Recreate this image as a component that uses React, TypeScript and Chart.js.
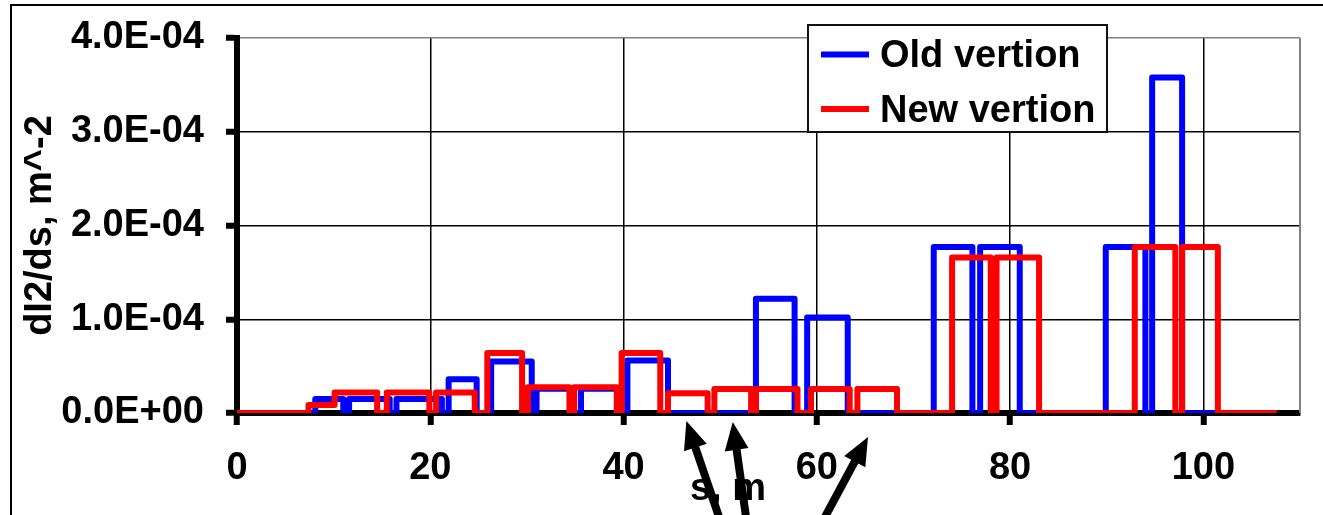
import { useEffect, useRef } from 'react';
import { Chart, registerables } from 'chart.js';

Chart.register(...registerables);

// Breakpoints of the dI2/ds step profiles along s (m)
const OLD_S = [
  0, 8.1, 8.1, 11.0, 11.0, 11.6, 11.6, 15.8, 15.8, 16.5, 16.5, 21.2, 21.2,
  21.9, 21.9, 24.8, 24.8, 26.3, 26.3, 30.5, 30.5, 31.0, 31.0, 34.6, 34.6,
  35.6, 35.6, 39.6, 39.6, 40.4, 40.4, 44.6, 44.6, 53.7, 53.7, 57.7, 57.7,
  59.0, 59.0, 63.2, 63.2, 72.1, 72.1, 76.1, 76.1, 76.9, 76.9, 81.0, 81.0,
  89.9, 89.9, 94.0, 94.0, 94.7, 94.7, 97.8, 97.8, 107.6,
];
const OLD_DI2 = [
  0, 0, 1.5e-5, 1.5e-5, 0, 0, 1.5e-5, 1.5e-5, 0, 0, 1.5e-5, 1.5e-5, 0,
  0, 3.6e-5, 3.6e-5, 0, 0, 5.5e-5, 5.5e-5, 0, 0, 2.6e-5, 2.6e-5, 0,
  0, 2.6e-5, 2.6e-5, 0, 0, 5.6e-5, 5.6e-5, 0, 0, 1.22e-4, 1.22e-4, 0,
  0, 1.02e-4, 1.02e-4, 0, 0, 1.77e-4, 1.77e-4, 0, 0, 1.77e-4, 1.77e-4, 0,
  0, 1.77e-4, 1.77e-4, 0, 0, 3.58e-4, 3.58e-4, 0, 0,
];

const NEW_S = [
  0, 7.4, 7.4, 10.1, 10.1, 14.5, 14.5, 15.5, 15.5, 19.9, 19.9, 20.6, 20.6,
  24.6, 24.6, 25.9, 25.9, 29.5, 29.5, 30.1, 30.1, 34.4, 34.4, 34.9, 34.9,
  39.3, 39.3, 39.8, 39.8, 43.8, 43.8, 44.6, 44.6, 48.7, 48.7, 49.4, 49.4,
  53.2, 53.2, 53.7, 53.7, 58.0, 58.0, 59.4, 59.4, 63.4, 63.4, 64.2, 64.2,
  68.3, 68.3, 74.0, 74.0, 78.0, 78.0, 78.6, 78.6, 83.0, 83.0, 92.9, 92.9,
  97.1, 97.1, 97.8, 97.8, 101.5, 101.5, 107.6,
];
const NEW_DI2 = [
  0, 0, 8.5e-6, 8.5e-6, 2.2e-5, 2.2e-5, 0, 0, 2.2e-5, 2.2e-5, 0, 0, 2.2e-5,
  2.2e-5, 0, 0, 6.4e-5, 6.4e-5, 0, 0, 2.75e-5, 2.75e-5, 0, 0, 2.75e-5,
  2.75e-5, 0, 0, 6.4e-5, 6.4e-5, 0, 0, 2.1e-5, 2.1e-5, 0, 0, 2.55e-5,
  2.55e-5, 0, 0, 2.55e-5, 2.55e-5, 0, 0, 2.55e-5, 2.55e-5, 0, 0, 2.55e-5,
  2.55e-5, 0, 0, 1.66e-4, 1.66e-4, 0, 0, 1.66e-4, 1.66e-4, 0, 0, 1.77e-4,
  1.77e-4, 0, 0, 1.77e-4, 1.77e-4, 0, 0,
];

const X_TICKS = [0, 20, 40, 60, 80, 100];
const Y_TICKS = [0, 1e-4, 2e-4, 3e-4, 4e-4];
const SERIES_LABELS = ['Old vertion', 'New vertion'];
const SERIES_COLORS = ['#0000ff', '#ff0000'];
const X_TITLE = 's, m';
const Y_TITLE = 'dI2/ds, m^-2';

// Pointer arrows under the s axis: where each tip points (s, m)
const ARROW_TARGETS = [46.5, 51.3, 65.3];

const FONT_FAMILY = '"Liberation Sans", Arial, sans-serif';
const BOLD = `bold 38px ${FONT_FAMILY}`;

function sci(v: number): string {
  const [m, e] = v.toExponential(1).split('e');
  const n = parseInt(e, 10);
  return `${m}E${n < 0 ? '-' : '+'}${String(Math.abs(n)).padStart(2, '0')}`;
}

const decorations = {
  id: 'decorations',
  afterDraw(chart: any) {
    const { ctx, chartArea } = chart;
    const xs = chart.scales.x;
    ctx.save();

    // outer frame
    ctx.strokeStyle = '#000';
    ctx.lineWidth = 2;
    ctx.beginPath();
    ctx.moveTo(11, chart.height + 5);
    ctx.lineTo(11, 5);
    ctx.lineTo(chart.width + 5, 5);
    ctx.stroke();

    // right edge of the plot area
    ctx.strokeStyle = '#808080';
    ctx.lineWidth = 2;
    ctx.beginPath();
    ctx.moveTo(chartArea.right, chartArea.top);
    ctx.lineTo(chartArea.right, chartArea.bottom);
    ctx.stroke();

    // legend box
    const lx = 808, ly = 25, lw = 299, lh = 107;
    ctx.fillStyle = '#fff';
    ctx.fillRect(lx, ly, lw, lh);
    ctx.strokeStyle = '#111';
    ctx.lineWidth = 2;
    ctx.strokeRect(lx, ly, lw, lh);
    const rows = [54.5, 109];
    ctx.font = BOLD;
    ctx.textAlign = 'left';
    ctx.textBaseline = 'alphabetic';
    SERIES_LABELS.forEach((label, i) => {
      ctx.strokeStyle = SERIES_COLORS[i];
      ctx.lineWidth = 6;
      ctx.beginPath();
      ctx.moveTo(821, rows[i]);
      ctx.lineTo(869, rows[i]);
      ctx.stroke();
      ctx.fillStyle = '#000';
      ctx.fillText(label, 880, rows[i] + 12.5);
    });

    // s-axis title
    ctx.fillStyle = '#000';
    ctx.textAlign = 'center';
    ctx.fillText(X_TITLE, chartArea.left + 491, 500);

    // pointer arrows
    const shapes = [
      { drop: 8, dx: 32, dy: 94 },
      { drop: 9, dx: 13, dy: 93 },
      { drop: 24, dx: -42, dy: 78 },
    ];
    ctx.fillStyle = '#000';
    ctx.strokeStyle = '#000';
    ARROW_TARGETS.forEach((s, i) => {
      const { drop, dx, dy } = shapes[i];
      const tx = xs.getPixelForValue(s);
      const ty = chartArea.bottom + drop;
      const len = Math.hypot(dx, dy);
      const ux = dx / len, uy = dy / len;
      const head = 28, half = 12;
      ctx.lineWidth = 8;
      ctx.lineCap = 'butt';
      ctx.beginPath();
      ctx.moveTo(tx + ux * head * 0.8, ty + uy * head * 0.8);
      ctx.lineTo(tx + ux * 250, ty + uy * 250);
      ctx.stroke();
      const bx = tx + ux * head, by = ty + uy * head;
      ctx.beginPath();
      ctx.moveTo(tx, ty);
      ctx.lineTo(bx - uy * half, by + ux * half);
      ctx.lineTo(bx + uy * half, by - ux * half);
      ctx.closePath();
      ctx.fill();
    });

    ctx.restore();
  },
};

export default function App() {
  const canvasRef = useRef<HTMLCanvasElement | null>(null);

  useEffect(() => {
    document.body.style.margin = '0';
    const canvas = canvasRef.current;
    if (!canvas) return;

    const toPoints = (s: number[], v: number[]) => s.map((x, i) => ({ x, y: v[i] }));

    const chart = new Chart(canvas, {
      type: 'line',
      data: {
        datasets: [
          {
            label: SERIES_LABELS[0],
            data: toPoints(OLD_S, OLD_DI2),
            borderColor: SERIES_COLORS[0],
            backgroundColor: SERIES_COLORS[0],
            borderWidth: 6,
            pointRadius: 0,
            tension: 0,
            borderJoinStyle: 'round',
            order: 2,
            clip: { left: 6, top: 6, right: 6, bottom: 0 },
          },
          {
            label: SERIES_LABELS[1],
            data: toPoints(NEW_S, NEW_DI2),
            borderColor: SERIES_COLORS[1],
            backgroundColor: SERIES_COLORS[1],
            borderWidth: 6,
            pointRadius: 0,
            tension: 0,
            borderJoinStyle: 'round',
            order: 1,
            clip: { left: 6, top: 6, right: 6, bottom: 0 },
          },
        ],
      },
      options: {
        responsive: false,
        animation: false,
        devicePixelRatio: 1,
        layout: { padding: { left: 12, top: 38, right: 23, bottom: 0 } },
        font: { family: FONT_FAMILY },
        plugins: {
          legend: { display: false },
          tooltip: { enabled: false },
        },
        scales: {
          x: {
            type: 'linear',
            min: 0,
            max: 110,
            afterBuildTicks: (scale: any) => {
              scale.ticks = X_TICKS.map((value) => ({ value }));
            },
            afterFit: (scale: any) => {
              scale.height = 102;
              scale.paddingLeft = 0;
              scale.paddingRight = 0;
            },
            ticks: {
              autoSkip: false,
              maxRotation: 0,
              padding: 21,
              color: '#000',
              font: { family: FONT_FAMILY, size: 38, weight: 'bold' },
              callback: (v: any) => String(v),
            },
            grid: {
              color: '#000',
              lineWidth: 1.5,
              tickColor: '#000',
              tickWidth: 6,
              tickLength: 12,
            },
            border: { display: true, color: '#000', width: 6 },
          },
          y: {
            type: 'linear',
            min: 0,
            max: 4e-4,
            afterBuildTicks: (scale: any) => {
              scale.ticks = Y_TICKS.map((value) => ({ value }));
            },
            afterFit: (scale: any) => {
              scale.width = 225;
              scale.paddingTop = 0;
              scale.paddingBottom = 0;
            },
            ticks: {
              padding: 22,
              color: '#000',
              font: { family: FONT_FAMILY, size: 38, weight: 'bold' },
              callback: (v: any) => sci(Number(v)),
            },
            grid: {
              color: (c: any) => (c.tick && c.tick.value > 3.9e-4 ? '#808080' : '#000'),
              lineWidth: 1.5,
              tickColor: '#000',
              tickWidth: 6,
              tickLength: 11,
            },
            border: { display: true, color: '#000', width: 6 },
            title: {
              display: true,
              text: Y_TITLE,
              color: '#000',
              padding: { top: 6, bottom: 0 },
              font: { family: FONT_FAMILY, size: 38, weight: 'bold' },
            },
          },
        },
      },
      plugins: [decorations],
    } as any);

    return () => chart.destroy();
  }, []);

  return (
    <canvas
      ref={canvasRef}
      width={1323}
      height={515}
      style={{ display: 'block', width: '1323px', height: '515px' }}
    />
  );
}
